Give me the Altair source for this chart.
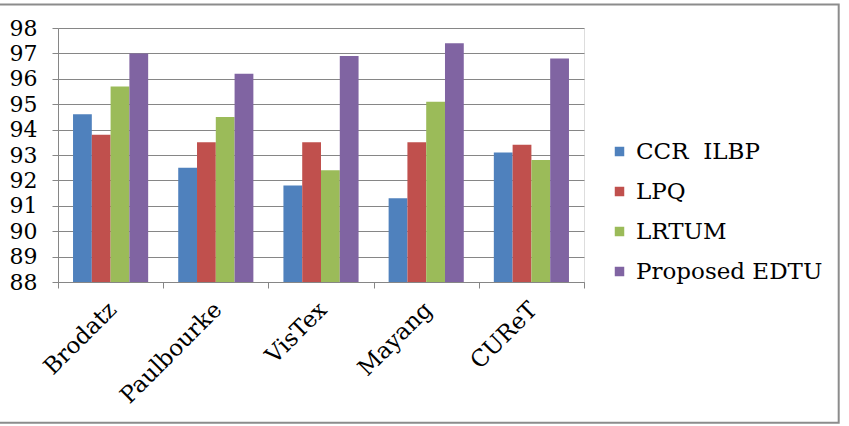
import altair as alt
import pandas as pd

categories = ["Brodatz", "Paulbourke", "VisTex", "Mayang", "CUReT"]
series = ["CCR\u00a0 ILBP", "LPQ", "LRTUM", "Proposed EDTU"]
ccr_ilbp = [94.6, 92.5, 91.8, 91.3, 93.1]
lpq = [93.8, 93.5, 93.5, 93.5, 93.4]
lrtum = [95.7, 94.5, 92.4, 95.1, 92.8]
edtu = [97.0, 96.2, 96.9, 97.4, 96.8]
colors = ["#4F81BD", "#C0504D", "#9BBB59", "#8064A2"]
y_ticks = list(range(88, 99))

rows = []
for s, vals in zip(series, [ccr_ilbp, lpq, lrtum, edtu]):
    for c, v in zip(categories, vals):
        rows.append({"dataset": c, "method": s, "value": v})
df = pd.DataFrame(rows)

FONT = "DejaVu Serif"

bars = alt.Chart(df).mark_bar(clip=True).encode(
    x=alt.X("dataset:N", sort=categories, title=None,
            scale=alt.Scale(paddingInner=0, paddingOuter=0),
            axis=alt.Axis(tickBand="extent", labelAngle=-45, labelOffset=-6,
                          labelFont=FONT, labelFontSize=23, labelColor="#000000",
                          labelAlign="right", labelBaseline="top",
                          domainColor="#868686", tickColor="#868686", tickSize=6,
                          labelPadding=10, grid=False)),
    xOffset=alt.XOffset("method:N", sort=series,
                        scale=alt.Scale(paddingInner=0, paddingOuter=0.8)),
    y=alt.Y("value:Q", title=None,
            scale=alt.Scale(domain=[88, 98], nice=False, zero=False),
            axis=alt.Axis(values=y_ticks, labelFont=FONT, labelFontSize=22,
                          labelColor="#000000", domainColor="#868686",
                          tickColor="#868686", tickSize=6, gridColor="#868686",
                          gridWidth=1, labelPadding=15)),
    color=alt.Color("method:N", sort=series, title=None,
                    scale=alt.Scale(domain=series, range=colors),
                    legend=alt.Legend(orient="none", legendX=550, legendY=112,
                                      symbolType="square", symbolSize=90,
                                      labelFont=FONT, labelFontSize=23,
                                      labelColor="#000000", rowPadding=16,
                                      symbolStrokeWidth=0, labelOffset=5,
                                      labelLimit=400)),
)

frame = alt.Chart(pd.DataFrame({"k": [0]})).mark_rect(
    filled=False, stroke="#8c8c8c", strokeWidth=2
).encode(
    x=alt.value(-62), x2=alt.value(780.7), y=alt.value(-23.5), y2=alt.value(394.7)
)

chart = alt.layer(bars, frame).properties(
    width=526, height=254,
    autosize=alt.AutoSizeParams(type="none"),
    padding={"left": 58, "top": 28, "right": 265, "bottom": 144},
).configure_view(stroke=None).configure(background="white")

chart.save("out.html", embed_options={"renderer": "svg", "actions": False})
